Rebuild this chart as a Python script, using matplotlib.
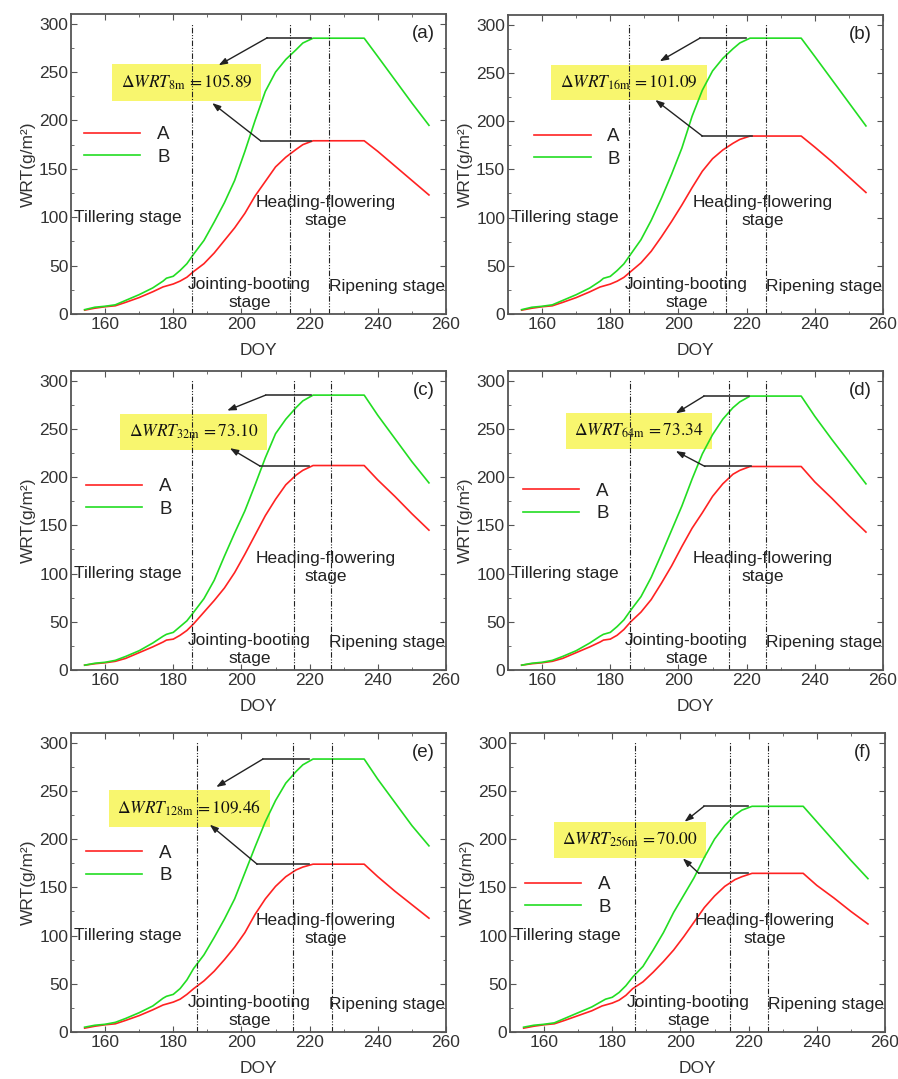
import matplotlib
matplotlib.use('Agg')
import matplotlib.pyplot as plt
from matplotlib.ticker import MultipleLocator

plt.rcParams['font.family'] = ['Liberation Sans', 'DejaVu Sans']

# ---------------- data ----------------
DOY = [154, 157, 160, 163, 166, 170, 174, 177, 178, 180, 182, 184, 186, 189, 192,
       195, 198, 201, 204, 207, 210, 213, 216, 218, 221, 236, 240, 245, 250, 255]

A_a = [4, 6, 7.5, 8.5, 12, 17, 23, 28, 29, 31, 34, 38, 44, 52, 63,
       76, 89, 104, 122, 137, 152, 162, 170, 175, 179, 179, 168, 153, 138, 123]
B_a = [4.5, 7, 8, 9.5, 14, 20, 27, 34, 37, 39, 45, 52, 62, 76, 95,
       115, 138, 168, 200, 230, 250, 263, 273, 280, 285, 285, 266, 242, 218, 195]

A_b = [4, 6, 7.5, 8.5, 12, 17, 23, 28, 29, 31, 34, 38, 44, 53, 65,
       80, 96, 113, 131, 148, 161, 170, 177, 181, 184.5, 184.5, 173, 158, 142, 126]
B_b = [4.5, 7, 8, 9.5, 14, 20, 27, 34, 37, 39, 45, 52, 62, 77, 97,
       120, 145, 172, 205, 232, 252, 265, 275, 281, 286, 286, 267, 243, 219, 195]

A_c = [5, 6.5, 7.5, 9, 12, 18, 24, 29, 31, 32, 36, 41, 48, 60, 72,
       85, 101, 120, 140, 160, 177, 192, 202, 207, 212, 212, 197, 180, 162, 145]
B_c = [5, 7, 8, 10, 14, 20, 28, 35, 37, 39, 45, 51, 60, 74, 93,
       118, 142, 165, 192, 220, 245, 260, 272, 279, 285, 285, 264, 240, 216, 194]

A_d = [5, 6.5, 7.5, 9, 12, 18, 24, 29, 31, 32, 36, 42, 50, 60, 73,
       90, 108, 128, 147, 163, 180, 193, 203, 207, 211, 211, 195, 178, 160, 143]
B_d = [5, 7, 8, 10, 14, 20, 28, 35, 37, 39, 45, 52, 62, 76, 96,
       120, 145, 170, 198, 224, 244, 260, 272, 278, 284, 284, 263, 239, 216, 193]

A_e = [4, 6, 7.5, 8.5, 12, 17, 23, 28, 29, 31, 34, 39, 45, 53, 63,
       75, 88, 103, 122, 138, 151, 161, 168, 171, 174, 174, 161, 146, 132, 118]
B_e = [5, 7, 8, 10, 14, 20, 27, 35, 37, 39, 45, 54, 66, 80, 98,
       117, 138, 165, 192, 218, 240, 258, 270, 277, 283, 283, 262, 238, 214, 193]

A_f = [4, 6, 7.5, 8.5, 12, 17, 22, 27, 28, 30, 33, 38, 45, 52, 62,
       73, 85, 99, 114, 129, 141, 151, 158, 161, 164.5, 164.5, 152, 139, 125, 112]
B_f = [5, 7, 8, 9.5, 14, 20, 26, 32, 34, 36, 41, 48, 57, 68, 85,
       103, 124, 142, 160, 181, 200, 214, 225, 230, 234, 234, 218, 198, 178, 159]

panel_labels = ['(a)', '(b)', '(c)', '(d)', '(e)', '(f)']
subscripts = ['8m', '16m', '32m', '64m', '128m', '256m']
delta_values = ['105.89', '101.09', '73.10', '73.34', '109.46', '70.00']
stage_names = ['Tillering stage', 'Jointing-booting\nstage',
               'Heading-flowering\nstage', 'Ripening stage']
series_A = [A_a, A_b, A_c, A_d, A_e, A_f]
series_B = [B_a, B_b, B_c, B_d, B_e, B_f]
stage_bounds = [[185.5, 214.3, 225.6], [185.4, 213.9, 225.6], [185.4, 215.3, 226.4],
                [185.9, 214.8, 225.7], [187.0, 215.1, 226.5], [186.7, 214.5, 225.8]]

# ---------------- layout ----------------
W, H = 898, 1079
fig = plt.figure(figsize=(W / 100, H / 100), dpi=100)

axes_px = [(71, 14, 446, 314), (508, 15, 883, 314),
           (71, 371, 446, 670), (508, 371, 883, 670),
           (71, 733, 446, 1032), (510, 733, 885, 1032)]

# annotation geometry: box centre, B-line (x0,x1,y), B-head, A-line, A-head
ann = [
    dict(box=(184.0, 239), bl=(220.3, 207.6, 285.5), bh=(193.3, 257), al=(220.3, 205.6, 179), ah=(191.4, 218)),
    dict(box=(185.5, 240), bl=(219.7, 206.3, 286), bh=(194.5, 262), al=(221.7, 207.0, 184.5), ah=(193.2, 222)),
    dict(box=(185.9, 247), bl=(220.3, 207.1, 285), bh=(195.8, 269), al=(219.8, 205.4, 211.5), ah=(196.6, 230)),
    dict(box=(188.4, 248), bl=(220.7, 207.5, 284), bh=(199.2, 266), al=(221.2, 207.8, 211), ah=(199.2, 227)),
    dict(box=(184.7, 232), bl=(219.8, 206.3, 283), bh=(192.6, 254), al=(219.8, 204.6, 174), ah=(190.7, 215)),
    dict(box=(185.2, 199), bl=(219.8, 206.9, 234), bh=(201.2, 218), al=(219.8, 205.4, 164.5), ah=(200.7, 180)),
]
legend_y = [0.60, 0.595, 0.615, 0.60, 0.60, 0.495]
legend_x = [0.015, 0.05, 0.02, 0.02, 0.02, 0.02]

tick_col = '#333333'
for i in range(6):
    l, t, r, b = axes_px[i]
    ax = fig.add_axes([l / W, 1 - b / H, (r - l) / W, (b - t) / H])
    ax.plot(DOY, series_A[i], color='#FF2222', lw=1.2, label='A')
    ax.plot(DOY, series_B[i], color='#22DD22', lw=1.2, label='B')
    ax.set_xlim(150, 260)
    ax.set_ylim(0, 310)
    ax.xaxis.set_major_locator(MultipleLocator(20))
    ax.xaxis.set_minor_locator(MultipleLocator(10))
    ax.yaxis.set_major_locator(MultipleLocator(50))
    ax.yaxis.set_minor_locator(MultipleLocator(25))
    ax.tick_params(which='both', direction='in', top=True, right=True,
                   colors='#555555', labelcolor=tick_col, labelsize=12.5)
    ax.tick_params(which='major', length=4, pad=2)
    ax.tick_params(which='minor', length=2)
    for s in ax.spines.values():
        s.set_color('#555555')
        s.set_linewidth(1.3)
    ax.set_xlabel('DOY', fontsize=12.5, color=tick_col, labelpad=8)
    ax.set_ylabel('WRT(g/m²)', fontsize=12.5, color=tick_col, labelpad=2)

    for xb in stage_bounds[i]:
        ax.plot([xb, xb], [0, 301], color='#222222', lw=0.8,
                linestyle=(0, (5, 1.5, 1, 1.5, 1, 1.5)))

    ax.text(150.8, 100, stage_names[0], fontsize=12.5, color='#222222', va='center', ha='left')
    ax.text(202.3, 21, stage_names[1], fontsize=12.5, color='#222222', va='center', ha='center',
            linespacing=1.25)
    ax.text(224.6, 106, stage_names[2], fontsize=12.5, color='#222222', va='center', ha='center',
            linespacing=1.25)
    ax.text(225.7, 28, stage_names[3], fontsize=12.5, color='#222222', va='center', ha='left')

    ax.text(0.94, 0.935, panel_labels[i], transform=ax.transAxes, fontsize=13.5,
            color='#222222', ha='center', va='center')

    leg = ax.legend(loc='center left', bbox_to_anchor=(legend_x[i], legend_y[i] - 0.04),
                    frameon=False, fontsize=13.5, handlelength=3.0, handletextpad=0.9,
                    labelspacing=0.3, borderaxespad=0)
    for txt in leg.get_texts():
        txt.set_color('#222222')

    a = ann[i]
    label = (r'$\Delta WRT_{\mathrm{' + subscripts[i] + r'}}\,=' + delta_values[i] + r'$')
    ax.text(a['box'][0], a['box'][1], label, fontsize=12.5, ha='center', va='center',
            math_fontfamily='stix', color='#111111',
            bbox=dict(boxstyle='square,pad=0.5', fc='#F8F66E', ec='none'), zorder=1)
    for key_l, key_h in (('bl', 'bh'), ('al', 'ah')):
        x0, x1, yy = a[key_l]
        ax.plot([x0, x1], [yy, yy], color='#333333', lw=1.2, zorder=4)
        ax.annotate('', xy=a[key_h], xytext=(x1, yy),
                    arrowprops=dict(arrowstyle='-|>,head_length=0.5,head_width=0.18',
                                    color='#222222', lw=1.0, shrinkA=0, shrinkB=0),
                    zorder=4)

fig.savefig('out.png', dpi=100)
